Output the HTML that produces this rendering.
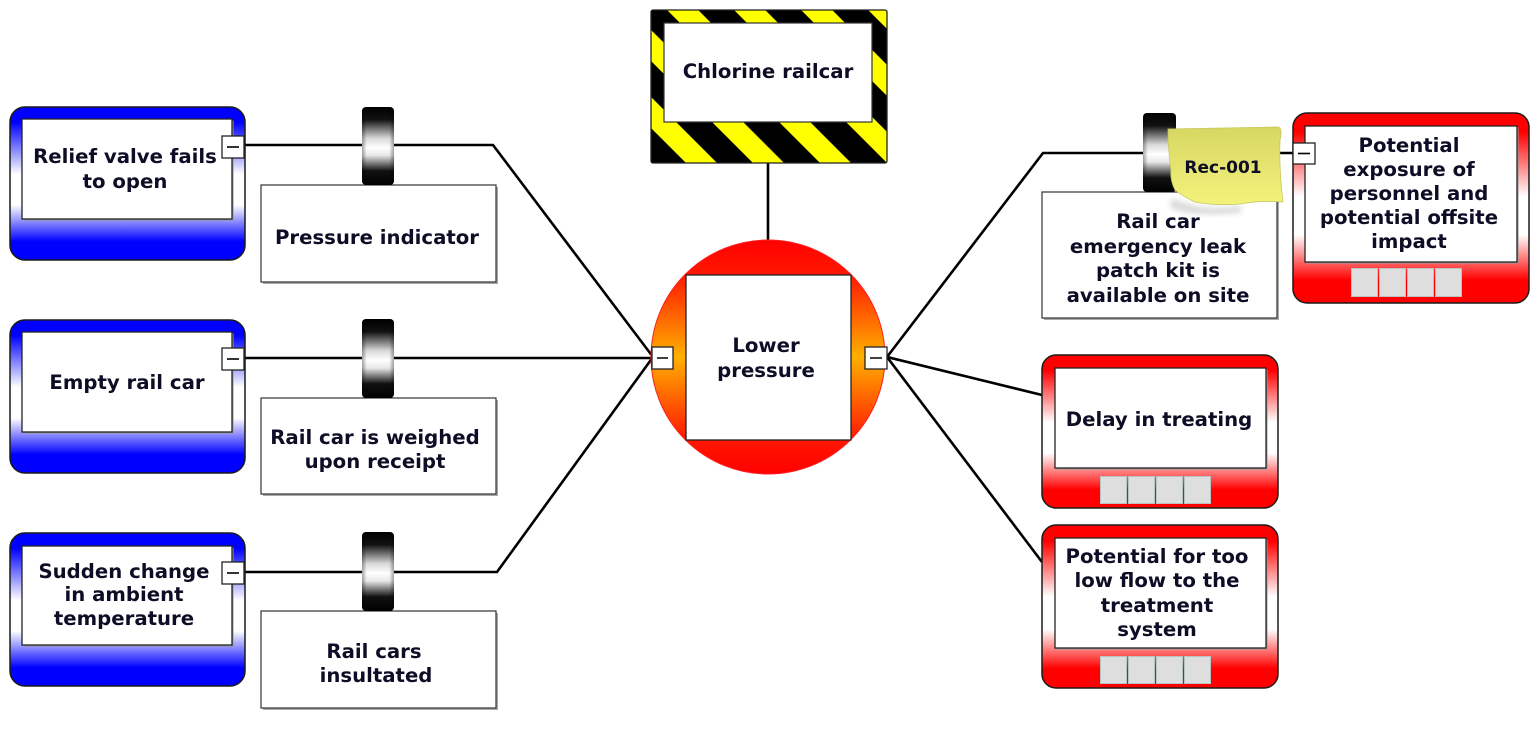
<!DOCTYPE html>
<html><head><meta charset="utf-8"><style>
html,body{margin:0;padding:0;background:#fff;}
svg{display:block;}
text{font-family:"DejaVu Sans","Liberation Sans",sans-serif;font-weight:bold;font-size:19.7px;fill:#0d0d26;text-anchor:middle;}
</style></head><body>
<svg width="1536" height="738" viewBox="0 0 1536 738" xmlns="http://www.w3.org/2000/svg">
<defs>
  <linearGradient id="blueG" x1="0" y1="0" x2="0" y2="1">
    <stop offset="0" stop-color="#0000ff"/>
    <stop offset="0.1" stop-color="#0000ff"/>
    <stop offset="0.44" stop-color="#ffffff"/>
    <stop offset="0.64" stop-color="#ffffff"/>
    <stop offset="0.88" stop-color="#0000ff"/>
    <stop offset="1" stop-color="#0000ff"/>
  </linearGradient>
  <linearGradient id="redG" x1="0" y1="0" x2="0" y2="1">
    <stop offset="0" stop-color="#ff0000"/>
    <stop offset="0.1" stop-color="#ff0000"/>
    <stop offset="0.44" stop-color="#ffffff"/>
    <stop offset="0.64" stop-color="#ffffff"/>
    <stop offset="0.88" stop-color="#ff0000"/>
    <stop offset="1" stop-color="#ff0000"/>
  </linearGradient>
  <linearGradient id="circG" x1="0" y1="0" x2="0" y2="1">
    <stop offset="0" stop-color="#ff0000"/>
    <stop offset="0.15" stop-color="#ff1800"/>
    <stop offset="0.5" stop-color="#ffb000"/>
    <stop offset="0.85" stop-color="#ff1800"/>
    <stop offset="1" stop-color="#ff0000"/>
  </linearGradient>
  <linearGradient id="cylG" x1="0" y1="0" x2="0" y2="1">
    <stop offset="0" stop-color="#000"/>
    <stop offset="0.16" stop-color="#111"/>
    <stop offset="0.4" stop-color="#d8d8d8"/>
    <stop offset="0.52" stop-color="#ffffff"/>
    <stop offset="0.62" stop-color="#e8e8e8"/>
    <stop offset="0.82" stop-color="#111"/>
    <stop offset="1" stop-color="#000"/>
  </linearGradient>
  <linearGradient id="cylH" x1="0" y1="0" x2="1" y2="0">
    <stop offset="0" stop-color="#000" stop-opacity="0.35"/>
    <stop offset="0.15" stop-color="#000" stop-opacity="0"/>
    <stop offset="0.85" stop-color="#000" stop-opacity="0"/>
    <stop offset="1" stop-color="#000" stop-opacity="0.35"/>
  </linearGradient>
  <linearGradient id="noteG" x1="0" y1="0" x2="0" y2="1">
    <stop offset="0" stop-color="#d6d662"/>
    <stop offset="1" stop-color="#f3f37c"/>
  </linearGradient>
  <pattern id="haz" patternUnits="userSpaceOnUse" x="38" y="0" width="47.4" height="200" patternTransform="rotate(-45)">
    <rect x="0" y="0" width="47.4" height="200" fill="#000"/>
    <rect x="0" y="0" width="22" height="200" fill="#ffff00"/>
  </pattern>
  <filter id="blur" x="-20%" y="-20%" width="140%" height="140%"><feGaussianBlur stdDeviation="3"/></filter>
</defs>

<!-- connectors -->
<g stroke="#000" stroke-width="2.6" fill="none">
  <path d="M244 145 H493 L653 357"/>
  <path d="M244 358 H653"/>
  <path d="M244 572 H497 L653 357"/>
  <path d="M768 163 V240"/>
  <path d="M887 357 L1043 153 H1293"/>
  <path d="M887 357 L1042 395"/>
  <path d="M887 357 L1042 562"/>
</g>

<!-- Left threat boxes -->
<g>
  <rect x="10" y="107" width="235" height="153" rx="15" fill="url(#blueG)" stroke="#1a1a1a" stroke-width="1.5"/>
  <rect x="23.5" y="120.5" width="210" height="100" fill="#999"/>
  <rect x="22" y="119" width="210" height="100" fill="#fff" stroke="#222" stroke-width="1.3"/>
  <text x="125" y="163">Relief valve fails</text>
  <text x="125" y="188">to open</text>

  <rect x="10" y="320" width="235" height="153" rx="15" fill="url(#blueG)" stroke="#1a1a1a" stroke-width="1.5"/>
  <rect x="23.5" y="333.5" width="210" height="100" fill="#999"/>
  <rect x="22" y="332" width="210" height="100" fill="#fff" stroke="#222" stroke-width="1.3"/>
  <text x="127" y="389">Empty rail car</text>

  <rect x="10" y="533" width="235" height="153" rx="15" fill="url(#blueG)" stroke="#1a1a1a" stroke-width="1.5"/>
  <rect x="23.5" y="547.5" width="210" height="99" fill="#999"/>
  <rect x="22" y="546" width="210" height="99" fill="#fff" stroke="#222" stroke-width="1.3"/>
  <text x="124" y="578">Sudden change</text>
  <text x="124" y="601">in ambient</text>
  <text x="124" y="625">temperature</text>
</g>

<!-- minus boxes left -->
<g fill="#fff" stroke="#222" stroke-width="1.3">
  <rect x="222" y="136" width="22" height="22"/>
  <rect x="222" y="348" width="22" height="22"/>
  <rect x="222" y="562" width="22" height="22"/>
</g>
<g stroke="#000" stroke-width="1.6">
  <path d="M227 147 H239"/>
  <path d="M227 359 H239"/>
  <path d="M227 573 H239"/>
</g>

<!-- control boxes left -->
<g>
  <rect x="263" y="187" width="235" height="97" fill="#aaa"/>
  <rect x="261" y="185" width="235" height="97" fill="#fff" stroke="#333" stroke-width="1.2"/>
  <text x="377" y="244">Pressure indicator</text>

  <rect x="263" y="400" width="235" height="96" fill="#aaa"/>
  <rect x="261" y="398" width="235" height="96" fill="#fff" stroke="#333" stroke-width="1.2"/>
  <text x="375" y="444">Rail car is weighed</text>
  <text x="375" y="468">upon receipt</text>

  <rect x="263" y="613" width="235" height="97" fill="#aaa"/>
  <rect x="261" y="611" width="235" height="97" fill="#fff" stroke="#333" stroke-width="1.2"/>
  <text x="374" y="658">Rail cars</text>
  <text x="376" y="682">insultated</text>
</g>

<!-- cylinders left -->
<g>
  <rect x="362" y="107" width="32" height="78" rx="4" fill="url(#cylG)"/>
  <rect x="362" y="107" width="32" height="78" rx="4" fill="url(#cylH)"/>
  <rect x="362" y="319" width="32" height="79" rx="4" fill="url(#cylG)"/>
  <rect x="362" y="319" width="32" height="79" rx="4" fill="url(#cylH)"/>
  <rect x="362" y="532" width="32" height="79" rx="4" fill="url(#cylG)"/>
  <rect x="362" y="532" width="32" height="79" rx="4" fill="url(#cylH)"/>
</g>

<!-- hazard box -->
<g>
  <rect x="651" y="10" width="236" height="153" rx="2" fill="url(#haz)" stroke="#222" stroke-width="1.3"/>
  <rect x="664" y="23" width="208" height="99" fill="#fff" stroke="#333" stroke-width="1.2"/>
  <text x="768" y="78">Chlorine railcar</text>
</g>

<!-- top event circle -->
<g>
  <circle cx="768" cy="357" r="117" fill="url(#circG)" stroke="#ff2020" stroke-width="1"/>
  <rect x="686" y="275" width="165" height="165" fill="#fff" stroke="#222" stroke-width="1.3"/>
  <text x="766" y="352">Lower</text>
  <text x="766" y="377">pressure</text>
  <rect x="652" y="347" width="21" height="22" fill="#fff" stroke="#222" stroke-width="1.3"/>
  <rect x="865" y="347" width="22" height="22" fill="#fff" stroke="#222" stroke-width="1.3"/>
  <path d="M657 358 H668 M870 358 H882" stroke="#000" stroke-width="1.6"/>
</g>

<!-- right barrier / control -->
<g>
  <rect x="1044" y="194" width="235" height="126" fill="#aaa"/>
  <rect x="1042" y="192" width="235" height="126" fill="#fff" stroke="#333" stroke-width="1.2"/>
  <text x="1158" y="228">Rail car</text>
  <text x="1158" y="253">emergency leak</text>
  <text x="1158" y="277">patch kit is</text>
  <text x="1158" y="302">available on site</text>
  <rect x="1143" y="113" width="33" height="79" rx="4" fill="url(#cylG)"/>
  <rect x="1143" y="113" width="33" height="79" rx="4" fill="url(#cylH)"/>
</g>

<!-- sticky note -->
<g>
  <path d="M1172 198 Q1200 212 1240 206 L1242 212 Q1200 218 1170 208 Z" fill="#aaa" opacity="0.45" filter="url(#blur)"/>
  <path d="M1168 129 L1278 127 Q1283 128 1280 140 Q1279 170 1283 202 Q1262 200 1240 204 Q1215 206 1195 202 Q1182 196 1175 190 Q1170 180 1171 170 Q1168 150 1168 129 Z" fill="url(#noteG)" stroke="#c8c860" stroke-width="0.8"/>
  <text x="1223" y="173" style="font-size:17px">Rec-001</text>
</g>

<!-- consequence boxes -->
<g>
  <rect x="1293" y="113" width="236" height="190" rx="14" fill="url(#redG)" stroke="#1a1a1a" stroke-width="1.5"/>
  <rect x="1306.5" y="127.5" width="212" height="136" fill="#999"/>
  <rect x="1305" y="126" width="212" height="136" fill="#fff" stroke="#222" stroke-width="1.3"/>
  <text x="1409" y="152">Potential</text>
  <text x="1409" y="176">exposure of</text>
  <text x="1409" y="200">personnel and</text>
  <text x="1409" y="224">potential offsite</text>
  <text x="1409" y="248">impact</text>
  <rect x="1293" y="143" width="22" height="21" fill="#fff" stroke="#222" stroke-width="1.3"/>
  <path d="M1298 153.5 H1310" stroke="#000" stroke-width="1.6"/>

  <rect x="1042" y="355" width="236" height="153" rx="14" fill="url(#redG)" stroke="#1a1a1a" stroke-width="1.5"/>
  <rect x="1056.5" y="369.5" width="211" height="100" fill="#999"/>
  <rect x="1055" y="368" width="211" height="100" fill="#fff" stroke="#222" stroke-width="1.3"/>
  <text x="1159" y="426">Delay in treating</text>

  <rect x="1042" y="525" width="236" height="163" rx="14" fill="url(#redG)" stroke="#1a1a1a" stroke-width="1.5"/>
  <rect x="1056.5" y="539.5" width="211" height="110" fill="#999"/>
  <rect x="1055" y="538" width="211" height="110" fill="#fff" stroke="#222" stroke-width="1.3"/>
  <text x="1157" y="563">Potential for too</text>
  <text x="1157" y="587">low flow to the</text>
  <text x="1157" y="612">treatment</text>
  <text x="1157" y="636">system</text>
</g>

<!-- buttons -->
<g fill="#dedede" stroke="#b8c4c4" stroke-width="1">
  <rect x="1351.5" y="268.5" width="26" height="28"/>
  <rect x="1379.5" y="268.5" width="26" height="28"/>
  <rect x="1407.5" y="268.5" width="26" height="28"/>
  <rect x="1435.5" y="268.5" width="26" height="28"/>

  <rect x="1100.5" y="476.5" width="26" height="27"/>
  <rect x="1128.5" y="476.5" width="26" height="27"/>
  <rect x="1156.5" y="476.5" width="26" height="27"/>
  <rect x="1184.5" y="476.5" width="26" height="27"/>

  <rect x="1100.5" y="656.5" width="26" height="27"/>
  <rect x="1128.5" y="656.5" width="26" height="27"/>
  <rect x="1156.5" y="656.5" width="26" height="27"/>
  <rect x="1184.5" y="656.5" width="26" height="27"/>
</g>
</svg>
</body></html>
